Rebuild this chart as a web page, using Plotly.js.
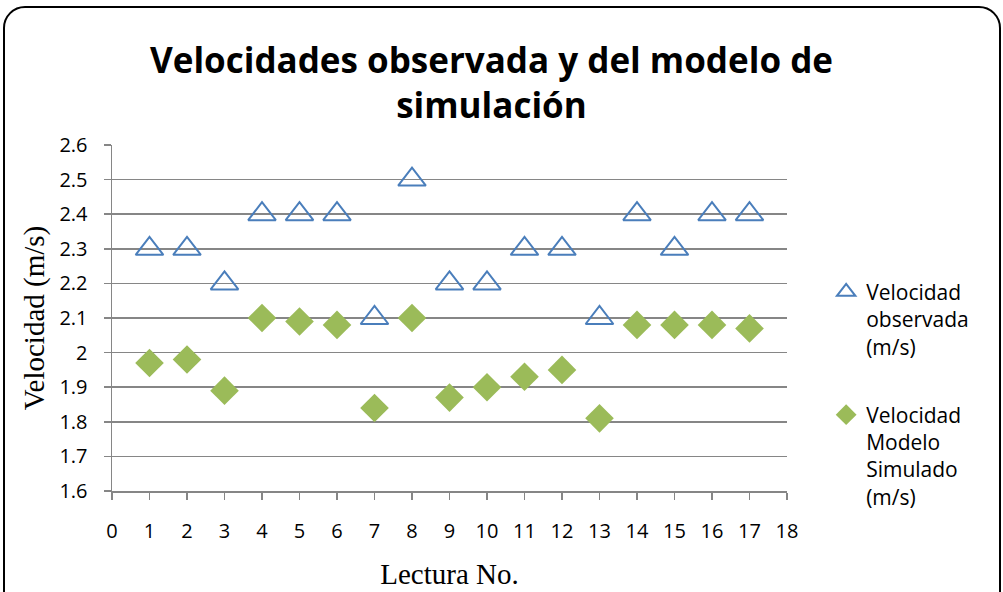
<!DOCTYPE html>
<html><head><meta charset="utf-8">
<script src="https://cdn.plot.ly/plotly-3.0.1.min.js"></script>
<style>
html,body{margin:0;padding:0;background:#fff;}
#wrap{position:relative;width:1003px;height:592px;overflow:hidden;}
#chart{position:absolute;left:0;top:0;width:1003px;height:592px;}
#frame{position:absolute;left:3px;top:6px;width:994px;height:620px;border:2px solid #000;border-radius:22px;pointer-events:none;}
</style></head>
<body><div id="wrap"><div id="chart"></div><div id="frame"></div></div>
<script>
const lectura = [1,2,3,4,5,6,7,8,9,10,11,12,13,14,15,16,17];
const observada = [2.3,2.3,2.2,2.4,2.4,2.4,2.1,2.5,2.2,2.2,2.3,2.3,2.1,2.4,2.3,2.4,2.4];
const simulado = [1.97,1.98,1.89,2.10,2.09,2.08,1.84,2.10,1.87,1.90,1.93,1.95,1.81,2.08,2.08,2.08,2.07];
const xTicks = [0,1,2,3,4,5,6,7,8,9,10,11,12,13,14,15,16,17,18];
const yTicks = [1.6,1.7,1.8,1.9,2,2.1,2.2,2.3,2.4,2.5,2.6];
const nameObs = 'Velocidad<br>observada<br>(m/s)';
const nameSim = 'Velocidad<br>Modelo<br>Simulado<br>(m/s)';

const traces = [
  {x: lectura, y: observada, name: nameObs, legendgroup:'a', type:'scatter', mode:'markers',
   marker:{symbol:'triangle-up-open', size:24, color:'#4a7ebb', line:{width:2, color:'#4a7ebb'}}},
  {x: lectura, y: simulado, name: nameSim, legendgroup:'b', type:'scatter', mode:'markers',
   marker:{symbol:'diamond', size:22, color:'#9bbb59', line:{width:0}}}
];
const layout = {
  width:1003, height:592,
  margin:{l:112, r:216, t:145, b:101, pad:0},
  paper_bgcolor:'rgba(0,0,0,0)', plot_bgcolor:'rgba(0,0,0,0)',
  title:{text:'Velocidades observada y del modelo de<br>simulación', x:0.49, xref:'container', xanchor:'center', y:0.877, yanchor:'top',
    font:{family:'Open Sans', size:35, color:'#000', weight:'bold'}},
  font:{family:'Open Sans', color:'#000'},
  xaxis:{range:[0,18], tickvals:xTicks, ticktext:xTicks.map(String), showgrid:false, zeroline:false,
    showline:true, linecolor:'#868686', linewidth:1.5, ticks:'outside', ticklen:7, tickcolor:'#868686', tickwidth:1.5,
    ticklabelstandoff:14, tickfont:{family:'Open Sans', size:20, color:'#000'},
    title:{text:'Lectura No.', standoff:21, font:{family:'Liberation Serif', size:29, color:'#000'}}},
  yaxis:{range:[1.6,2.6], tickvals:yTicks, ticktext:yTicks.map(v=>String(v)), showgrid:true, gridcolor:'#868686', gridwidth:1.5,
    zeroline:false, showline:true, linecolor:'#868686', linewidth:1.5, ticks:'outside', ticklen:7, tickcolor:'#868686', tickwidth:1.5,
    ticklabelstandoff:12, tickfont:{family:'Open Sans', size:20, color:'#000'},
    title:{text:'Velocidad (m/s)', standoff:6, font:{family:'Liberation Serif', size:29, color:'#000'}}},
  showlegend:true,
  legend:{x:1.058, xanchor:'left', y:0.634, yanchor:'top', valign:'top', tracegroupgap:38,
    font:{family:'Open Sans', size:21, color:'#000'}, itemwidth:30}
};
Plotly.newPlot('chart', traces, layout, {staticPlot:true});
</script></body></html>
